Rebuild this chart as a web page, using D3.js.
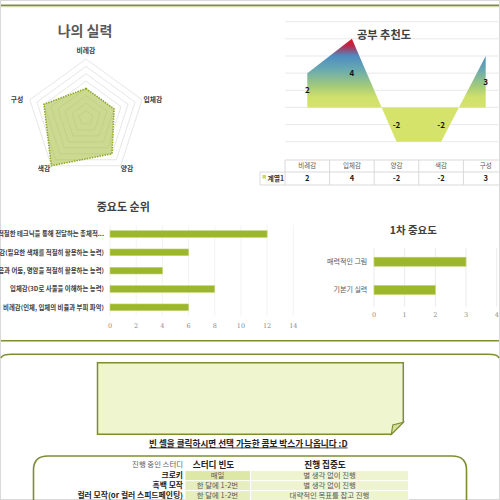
<!DOCTYPE html>
<html><head><meta charset="utf-8">
<script src="https://cdn.jsdelivr.net/npm/d3@7"></script>
<style>html,body{margin:0;padding:0;background:#fff;overflow:hidden}svg{display:block;font-family:"Noto Sans CJK KR","Noto Sans",sans-serif}</style>
</head><body><svg id="c" width="500" height="500"></svg>
<script>
// ---------- data ----------
const radarAxes = ["비례감","입체감","양감","색감","구성"];
const radarValues = [2,2,3,4,3];
const radarMax = 4;
const radarRings = [0.5,1,1.5,2,2.5,3,3.5,4];

const recCategories = ["비례감","입체감","양감","색감","구성"];
const recValues = [2,4,-2,-2,3];
const recTicks = [-2,-1,0,1,2,3,4,5];
const recSeries = "계열1";

const rankLabels = ["구성(주제를 적절한 테크닉을 통해 전달하는 총체적...","색감(필요한 색채를 적절히 활용하는 능력)","양감(밝음과 어둠, 명암을 적절히 활용하는 능력)","입체감(3D로 사물을 이해하는 능력)","비례감(인체, 입체의 비율과 부피 파악)"];
const rankValues = [12,6,4,8,6];
const rankTicks = [0,2,4,6,8,10,12,14];

const firstLabels = ["매력적인 그림","기본기 실력"];
const firstValues = [3,2];
const firstTicks = [0,1,2,3,4];

const studyHeader = ["진행 중인 스터디","스터디 빈도","진행 집중도"];
const studyNames = ["크로키","흑백 모작","컬러 모작(or 컬러 스피드페인팅)"];
const studyFreq = ["매일","한 달에 1-2번","한 달에 1-2번"];
const studyFocus = ["별 생각 없이 진행","별 생각 없이 진행","대략적인 목표를 잡고 진행"];

// ---------- drawing ----------
const svg = d3.select("#c");
const olive = "#7e8d33";

svg.append("rect").attr("x",0.5).attr("y",0.5).attr("width",499).attr("height",499)
  .attr("fill","#fff").attr("stroke","#d9d9d9");
svg.append("line").attr("x1",1).attr("x2",499).attr("y1",5.6).attr("y2",5.6)
  .attr("stroke","#7f8a4e").attr("stroke-width",2);
svg.append("line").attr("x1",1).attr("x2",499).attr("y1",7.1).attr("y2",7.1)
  .attr("stroke","#eef3c4").attr("stroke-width",1);

// ===== Radar: 나의 실력 =====
(function(){
  const cx = 86, cy = 118;
  const r = d3.scaleLinear().domain([0, radarMax]).range([0, 59]);
  const ang = i => i * 2 * Math.PI / radarAxes.length;
  const pt = (i, v) => [cx + r(v) * Math.sin(ang(i)), cy - r(v) * Math.cos(ang(i))];
  const g = svg.append("g");
  g.append("text").attr("x",85).attr("y",36).attr("text-anchor","middle")
    .attr("font-size",14).attr("font-weight","bold").attr("fill","#595959").text("나의 실력");
  const line = d3.line();
  radarRings.forEach(v => {
    g.append("path").attr("d", line(radarAxes.map((a,i)=>pt(i,v))) + "Z")
      .attr("fill","none").attr("stroke","#e0e0e0").attr("stroke-width",0.8);
  });
  g.append("path").attr("d", line(radarValues.map((v,i)=>pt(i,v))) + "Z")
    .attr("fill","#a9c048").attr("fill-opacity",0.6)
    .attr("stroke","#8ea51f").attr("stroke-width",1.6).attr("stroke-dasharray","1.4,1.2");
  const lblPos = [[86,52.5],[153,102],[127,171],[44,171],[17,102]];
  radarAxes.forEach((a,i)=>{
    g.append("text").attr("x", lblPos[i][0]).attr("y", lblPos[i][1])
      .attr("text-anchor","middle").attr("font-size",6.8).attr("font-weight","bold")
      .attr("fill","#404040").text(a);
  });
})();

// ===== Area: 공부 추천도 =====
(function(){
  const x = d3.scaleBand().domain(recCategories).range([285, 508]);
  const y = d3.scaleLinear().domain([-2, 5]).range([141.7, 21.7]);
  const g = svg.append("g");
  recTicks.forEach(t => {
    g.append("line").attr("x1",285).attr("x2",500).attr("y1",y(t)).attr("y2",y(t))
      .attr("stroke","#e3e3e3").attr("stroke-width",0.8);
  });
  const grad = svg.append("defs").append("linearGradient").attr("id","recGrad")
    .attr("gradientUnits","userSpaceOnUse").attr("x1",0).attr("x2",0)
    .attr("y1", y(4)).attr("y2", y(0));
  [[0,"#ec1218"],[0.1,"#b8284e"],[0.25,"#4d8cc0"],[0.45,"#6aaab0"],[0.7,"#a6cc78"],[0.85,"#cfe06c"],[1,"#d6e36a"]]
    .forEach(s => grad.append("stop").attr("offset",s[0]).attr("stop-color",s[1]));
  const cx = d => x(d) + x.bandwidth()/2;
  const area = d3.area().x((d,i)=>cx(recCategories[i])).y0(y(0)).y1(d=>y(d));
  g.append("path").attr("d", area(recValues)).attr("fill","url(#recGrad)");
  g.append("text").attr("x",384).attr("y",39).attr("text-anchor","middle")
    .attr("font-size",11.2).attr("font-weight","bold").attr("fill","#404040").text("공부 추천도");
  recValues.forEach((v,i)=>{
    g.append("text").attr("x",cx(recCategories[i])).attr("y",y(v/2)+3)
      .attr("text-anchor","middle").attr("font-size",8).attr("font-weight","bold")
      .attr("fill","#111").text(v);
  });
  const tc = "#d9d9d9";
  g.append("line").attr("x1",285).attr("x2",500).attr("y1",160).attr("y2",160).attr("stroke",tc);
  g.append("line").attr("x1",260).attr("x2",500).attr("y1",172).attr("y2",172).attr("stroke",tc);
  g.append("line").attr("x1",260).attr("x2",500).attr("y1",185).attr("y2",185).attr("stroke",tc);
  g.append("line").attr("x1",260).attr("x2",260).attr("y1",172).attr("y2",185).attr("stroke",tc);
  recCategories.forEach(c=>{
    g.append("line").attr("x1",x(c)).attr("x2",x(c)).attr("y1",160).attr("y2",185).attr("stroke",tc);
  });
  recCategories.forEach((c,i)=>{
    g.append("text").attr("x",cx(c)).attr("y",168.2).attr("text-anchor","middle")
      .attr("font-size",6.5).attr("fill","#595959").text(c);
    g.append("text").attr("x",cx(c)).attr("y",181).attr("text-anchor","middle")
      .attr("font-size",7.5).attr("font-weight","bold").attr("fill","#222").text(recValues[i]);
  });
  g.append("rect").attr("x",262.5).attr("y",175).attr("width",3.5).attr("height",3.5).attr("fill","#c8d860");
  g.append("text").attr("x",267.5).attr("y",181).attr("font-size",6.8).attr("font-weight","bold")
    .attr("fill","#333").text(recSeries);
})();

// ===== Bar: 중요도 순위 =====
(function(){
  const x = d3.scaleLinear().domain([0,14]).range([110, 293.3]);
  const y = d3.scaleBand().domain(rankLabels).range([230.65, 310.65]).paddingInner(0.635).paddingOuter(0);
  const g = svg.append("g");
  rankTicks.forEach(t=>{
    g.append("line").attr("x1",x(t)).attr("x2",x(t)).attr("y1",225).attr("y2",316)
      .attr("stroke","#f0f0f0").attr("stroke-width",0.8);
    g.append("text").attr("x",x(t)).attr("y",328).attr("text-anchor","middle")
      .attr("font-size",6.5).attr("fill","#8a8a8a").attr("font-family","DejaVu Serif").text(t);
  });
  g.append("text").attr("x",123.3).attr("y",211).attr("text-anchor","middle")
    .attr("font-size",11).attr("font-weight","bold").attr("fill","#404040").text("중요도 순위");
  rankLabels.forEach((l,i)=>{
    g.append("rect").attr("x",x(0)).attr("y",y(l)).attr("width",x(rankValues[i])-x(0))
      .attr("height",y.bandwidth()).attr("fill","#9db72c").attr("stroke","#c2d56a").attr("stroke-width",0.6);
    g.append("text").attr("x",104).attr("y",y(l)+y.bandwidth()/2+2.3).attr("text-anchor","end")
      .attr("font-size",6.4).attr("font-weight","bold").attr("fill","#404040").text(l);
  });
})();

// ===== Bar: 1차 중요도 =====
(function(){
  const x = d3.scaleLinear().domain([0,4]).range([374, 496.7]);
  const y = d3.scaleBand().domain(firstLabels).range([257.2, 294.5]).paddingInner(0.68).paddingOuter(0);
  const g = svg.append("g");
  firstTicks.forEach(t=>{
    g.append("line").attr("x1",x(t)).attr("x2",x(t)).attr("y1",248).attr("y2",306.7)
      .attr("stroke","#e6e6e6").attr("stroke-width",0.8);
    g.append("text").attr("x",x(t)).attr("y",316.5).attr("text-anchor","middle")
      .attr("font-size",6.5).attr("fill","#8a8a8a").attr("font-family","DejaVu Serif").text(t);
  });
  g.append("text").attr("x",413.3).attr("y",234).attr("text-anchor","middle")
    .attr("font-size",10.5).attr("font-weight","bold").attr("fill","#404040").text("1차 중요도");
  firstLabels.forEach((l,i)=>{
    g.append("rect").attr("x",x(0)).attr("y",y(l)).attr("width",x(firstValues[i])-x(0))
      .attr("height",y.bandwidth()).attr("fill","#9db72c").attr("stroke","#c2d56a").attr("stroke-width",0.6);
    g.append("text").attr("x",367.3).attr("y",y(l)+y.bandwidth()/2+2.4).attr("text-anchor","end")
      .attr("font-size",7).attr("fill","#595959").text(l);
  });
})();

// ===== Bottom section =====
svg.append("line").attr("x1",1).attr("x2",499).attr("y1",340.8).attr("y2",340.8)
  .attr("stroke",olive).attr("stroke-width",1.6);
svg.append("path").attr("d","M1,358 Q2,354.2 12,354.2 H488 Q498,354.2 499,358")
  .attr("fill","none").attr("stroke",olive).attr("stroke-width",1.6);

svg.append("path").attr("d","M97.5,362.8 H403.3 V422.3 L391.3,434.3 H97.5 Z")
  .attr("fill","#eff5cf").attr("stroke",olive).attr("stroke-width",1.5);
svg.append("path").attr("d","M391.3,434.3 L392.8,425 L403.3,422.3 Z")
  .attr("fill","#d3df9a").attr("stroke",olive).attr("stroke-width",1.1);

svg.append("text").attr("x",248.3).attr("y",446.5).attr("text-anchor","middle")
  .attr("font-size",8.6).attr("font-weight","bold").attr("fill","#222")
  .attr("text-decoration","underline").text("빈 셀을 클릭하시면 선택 가능한 콤보 박스가 나옵니다 :D");

svg.append("path").attr("d","M33.5,512 V470 Q33.5,456 48,456 H452 Q466.5,456 466.5,470 V512")
  .attr("fill","none").attr("stroke",olive).attr("stroke-width",1.6);

(function(){
  const g = svg.append("g");
  const rowY = d3.scaleBand().domain(studyNames).range([470.7, 500.7]);
  g.append("text").attr("x",183).attr("y",467.3).attr("text-anchor","end").attr("font-size",7.4)
    .attr("fill","#595959").text(studyHeader[0]);
  g.append("text").attr("x",213.5).attr("y",467.8).attr("text-anchor","middle").attr("font-size",8.6)
    .attr("font-weight","bold").attr("fill","#222").text(studyHeader[1]);
  g.append("text").attr("x",325).attr("y",467.8).attr("text-anchor","middle").attr("font-size",8.6)
    .attr("font-weight","bold").attr("fill","#222").text(studyHeader[2]);
  studyNames.forEach((n,i)=>{
    const y0 = rowY(n), h = rowY.bandwidth();
    g.append("rect").attr("x",185).attr("y",y0).attr("width",65.5).attr("height",h)
      .attr("fill", i===0 ? "#dde8a6" : "#e6eebe").attr("stroke","#fff").attr("stroke-width",0.8);
    g.append("rect").attr("x",250.5).attr("y",y0).attr("width",158).attr("height",h)
      .attr("fill","#eef4d0").attr("stroke","#fff").attr("stroke-width",0.8);
    g.append("text").attr("x",183).attr("y",y0+h/2+2.7).attr("text-anchor","end").attr("font-size",7.8)
      .attr("font-weight","bold").attr("fill","#222").text(n);
    g.append("text").attr("x",217.5).attr("y",y0+h/2+2.6).attr("text-anchor","middle").attr("font-size",7.4)
      .attr("fill","#595959").text(studyFreq[i]);
    g.append("text").attr("x",329.5).attr("y",y0+h/2+2.6).attr("text-anchor","middle").attr("font-size",7.4)
      .attr("fill","#595959").text(studyFocus[i]);
  });
})();
</script></body></html>
